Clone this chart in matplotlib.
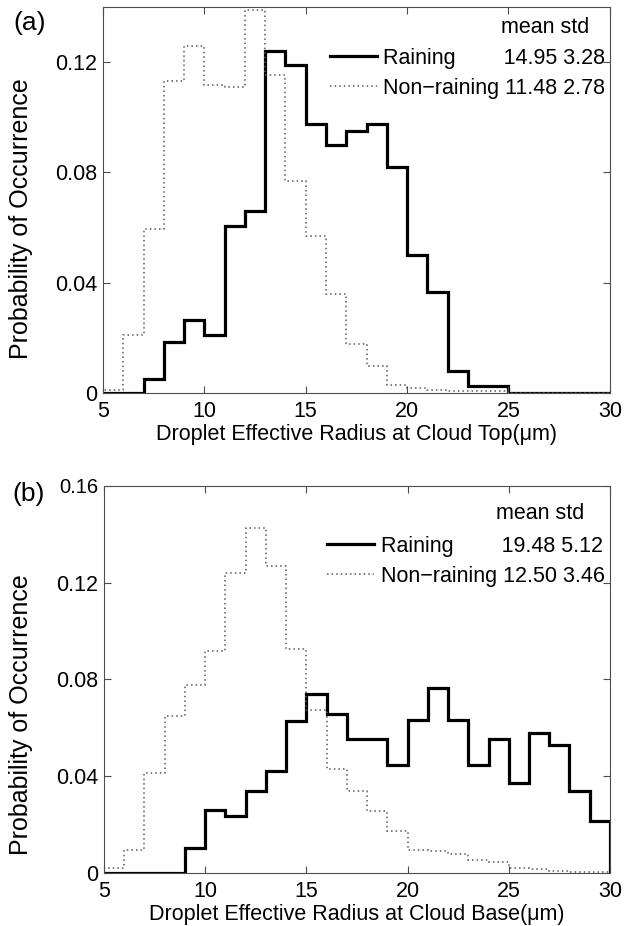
import matplotlib
matplotlib.use("Agg")
import matplotlib.pyplot as plt
import numpy as np

plt.rcParams['font.family'] = ['Liberation Sans', 'DejaVu Sans']

# bin edges: 1 um bins from 5 to 30
edges = np.arange(5, 31, 1)

# (a) cloud top
top_rain = [0.0, 0.0, 0.0051, 0.0184, 0.0263, 0.0210, 0.0606, 0.0660, 0.1240, 0.1188,
            0.0976, 0.0899, 0.0950, 0.0976, 0.0818, 0.0499, 0.0368, 0.0081, 0.0024, 0.0024,
            0.0, 0.0, 0.0, 0.0, 0.0]
top_norain = [0.0010, 0.0212, 0.0594, 0.1133, 0.1257, 0.1117, 0.1111, 0.1390, 0.1154, 0.0770,
              0.0570, 0.0360, 0.0176, 0.0097, 0.0030, 0.0018, 0.0010, 0.0006, 0.0006, 0.0006,
              0.0, 0.0, 0.0, 0.0, 0.0]

# (b) cloud base
base_rain = [0.0, 0.0, 0.0, 0.0, 0.0103, 0.0262, 0.0234, 0.0341, 0.0420, 0.0630,
             0.0738, 0.0658, 0.0552, 0.0552, 0.0448, 0.0632, 0.0766, 0.0632, 0.0448, 0.0554,
             0.0372, 0.0579, 0.0528, 0.0338, 0.0214]
base_norain = [0.0020, 0.0094, 0.0414, 0.0651, 0.0779, 0.0917, 0.1241, 0.1428, 0.1269, 0.0928,
               0.0673, 0.0428, 0.0341, 0.0258, 0.0175, 0.0094, 0.0090, 0.0080, 0.0055, 0.0044,
               0.0020, 0.0017, 0.0007, 0.0003, 0.0003]

stats_top = {"Raining": (14.95, 3.28), "Non\u2212raining": (11.48, 2.78)}
stats_base = {"Raining": (19.48, 5.12), "Non\u2212raining": (12.50, 3.46)}

fs = 15.5

fig = plt.figure(figsize=(6.28, 9.26), dpi=100)
ax1 = fig.add_axes([0.164, 0.5756, 0.807, 0.4168])
ax2 = fig.add_axes([0.1656, 0.0572, 0.8057, 0.418])


def draw_panel(ax, rain, norain, stats, xlabel, ylim, yticks, leg_anchor, ms_pos, ylab_xy):
    ax.stairs(rain, edges, color='black', linewidth=2.3,
              label="Raining        %.2f %.2f" % stats["Raining"])
    ax.stairs(norain, edges, color='0.35', linewidth=1.1, linestyle=(0, (1, 2)),
              label="Non\u2212raining %.2f %.2f" % stats["Non\u2212raining"])
    ax.set_xlim(5, 30)
    ax.set_ylim(*ylim)
    ax.set_xticks([5, 10, 15, 20, 25, 30])
    ax.set_yticks(yticks)
    ax.set_yticklabels(['0' if t == 0 else '%.2f' % t for t in yticks])
    ax.tick_params(direction='in', top=True, right=True, length=5, width=0.8,
                   labelsize=fs, color='0.3')
    ax.tick_params(axis='x', pad=6)
    ax.tick_params(axis='y', pad=4)
    for s in ax.spines.values():
        s.set_linewidth(0.8)
        s.set_color('0.3')
    ax.set_xlabel(xlabel, fontsize=fs, labelpad=1)
    ax.set_ylabel("Probability of Occurrence", fontsize=18)
    ax.yaxis.set_label_coords(*ylab_xy)
    ax.legend(loc='upper left', bbox_to_anchor=leg_anchor, frameon=False, fontsize=fs,
              handlelength=2.2, handletextpad=0.28, labelspacing=0.42, borderpad=0,
              borderaxespad=0)
    ax.text(ms_pos[0], ms_pos[1], "mean std", transform=ax.transAxes, fontsize=fs,
            va='center', ha='left')


draw_panel(ax1, top_rain, top_norain, stats_top,
           "Droplet Effective Radius at Cloud Top(\u03bcm)", (0, 0.14),
           [0, 0.04, 0.08, 0.12], (0.448, 0.895), (0.785, 0.946), (-0.138, 0.453))
draw_panel(ax2, base_rain, base_norain, stats_base,
           "Droplet Effective Radius at Cloud Base(\u03bcm)", (0, 0.16),
           [0, 0.04, 0.08, 0.12, 0.16], (0.441, 0.872), (0.775, 0.930), (-0.140, 0.41))

# top label of panel (b) sits a little smaller in the original
ax2.get_yticklabels()[-1].set_fontsize(14.5)

fig.text(0.022, 0.975, "(a)", fontsize=19, va='center', ha='left')
fig.text(0.02, 0.467, "(b)", fontsize=19, va='center', ha='left')

fig.savefig("out.png", dpi=100)
